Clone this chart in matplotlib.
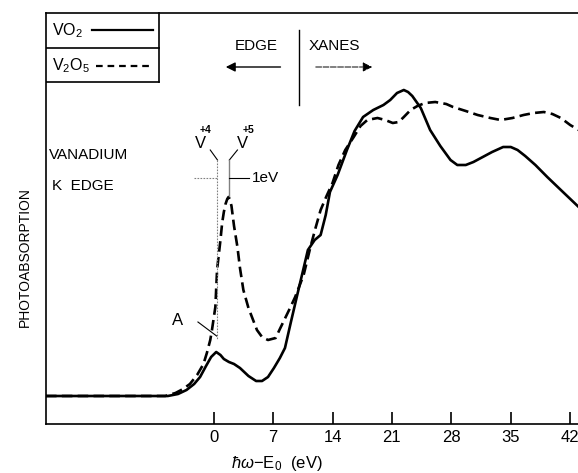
import numpy as np
import matplotlib
matplotlib.use('Agg')
import matplotlib.pyplot as plt

plt.rcParams['font.family'] = ['Liberation Sans', 'DejaVu Sans']
plt.rcParams['mathtext.fontset'] = 'custom'
plt.rcParams['mathtext.rm'] = 'Liberation Sans'
plt.rcParams['mathtext.it'] = 'Liberation Sans:italic'

# energy relative to edge (eV) and photoabsorption (arbitrary units)
vo2_e = [-19.75, -7.5, -5.4, -4.2, -3.2, -2.3, -1.6, -0.9, -0.3, 0.3, 0.8, 1.2,
         1.8, 2.4, 3.1, 4.1, 5.0, 5.7, 6.4, 7.1, 7.8, 8.4, 9.1, 9.9, 10.6, 11.1,
         11.9, 12.6, 13.2, 13.7, 14.6, 15.7, 16.6, 17.6, 18.8, 20.0, 20.8, 21.6,
         22.4, 22.9, 23.4, 24.4, 25.5, 26.7, 27.9, 28.7, 29.7, 30.6, 31.7, 32.8,
         34.1, 35.0, 35.8, 36.7, 37.9, 39.3, 40.9, 43.0]
vo2_a = [28, 28, 28, 30, 34, 40, 47, 58, 67, 72, 69, 65,
         62, 60, 56, 48, 43, 43, 47, 56, 66, 76, 102, 131, 156, 174,
         184, 189, 209, 232, 249, 274, 293, 307, 314, 319, 324, 331,
         334, 332, 328, 316, 294, 278, 264, 259, 259, 262, 267, 272,
         277, 277, 274, 268, 259, 247, 234, 217]

v2o5_e = [-19.75, -7.5, -5.7, -4.5, -3.6, -2.8, -1.95, -1.2, -0.8, -0.4, -0.2,
          0.2, 0.4, 0.8, 1.0, 1.2, 1.4, 1.6, 1.75, 1.9, 2.1, 2.4, 2.8, 3.1, 3.5,
          4.1, 5.1, 5.7, 6.4, 7.3, 7.8, 9.0, 9.6, 10.6, 11.4, 12.0, 12.6, 13.3,
          14.0, 14.7, 15.5, 16.5, 17.3, 18.1, 19.3, 20.2, 21.1, 21.8, 22.4, 23.2,
          24.0, 24.9, 26.1, 27.4, 28.2, 29.7, 31.1, 32.6, 33.8, 35.2, 36.5, 37.7,
          38.9, 39.9, 40.9, 42.0, 43.0]
v2o5_a = [28, 28, 28, 31, 35, 40, 49, 60, 71, 84, 94,
          117, 154, 184, 201, 212, 220, 225, 227, 225, 218, 198, 177, 156, 134,
          116, 94, 87, 84, 86, 95, 116, 127, 149, 177, 196, 214, 228,
          241, 259, 274, 287, 298, 304, 306, 304, 301, 302, 307, 314,
          318, 321, 322, 320, 317, 313, 309, 306, 304, 306, 309, 311,
          312, 310, 306, 299, 294]

xticks = [0, 7, 14, 21, 28, 35, 42]

fig = plt.figure(figsize=(5.78, 4.73), dpi=100)
ax = fig.add_axes([46/578, 1 - 424/473, 1 - 46/578 + 0.01, (424 - 13)/473])

ax.plot(vo2_e, vo2_a, color='black', lw=1.9, solid_joinstyle='round')
ax.plot(v2o5_e, v2o5_a, color='black', lw=1.9, dashes=(4, 2))

ax.set_xlim(-19.75, 43.6)
ax.set_ylim(0, 411)
ax.set_xticks(xticks)
ax.set_xticklabels([str(t) for t in xticks], fontsize=12)
ax.set_yticks([])
ax.tick_params(axis='x', direction='in', length=9, width=1.2, pad=4)
for s in ['left', 'bottom', 'top']:
    ax.spines[s].set_linewidth(1.2)
ax.spines['right'].set_visible(False)

# legend box
tr = ax.transAxes
bx = 112/532
ax.plot([bx, bx], [1, 0.832], color='black', lw=1.2, transform=tr, clip_on=False)
ax.plot([0, bx], [0.832, 0.832], color='black', lw=1.2, transform=tr)
ax.plot([0, bx], [0.915, 0.915], color='black', lw=1.2, transform=tr)
ax.text(0.011, 0.958, r'$\mathregular{VO_2}$', transform=tr, fontsize=11.5, va='center')
ax.plot([46/532, 106/532], [0.958, 0.958], color='black', lw=1.6, transform=tr)
ax.text(0.011, 0.871, r'$\mathregular{V_2O_5}$', transform=tr, fontsize=11.5, va='center')
ax.plot([49/532, 104/532], [0.871, 0.871], color='black', lw=1.6, dashes=(3, 2.2), transform=tr)

# EDGE / XANES
ax.text(5.0, 378, 'EDGE', fontsize=11, ha='center', va='center')
ax.text(14.2, 378, 'XANES', fontsize=11, ha='center', va='center')
ax.plot([10.1, 10.1], [394, 319], color='black', lw=1.0)
ax.annotate('', xy=(1.1, 357), xytext=(8.2, 357),
            arrowprops=dict(arrowstyle='-|>', color='black', lw=1.0, mutation_scale=14))
ax.annotate('', xy=(19.0, 357), xytext=(11.7, 357),
            arrowprops=dict(arrowstyle='-|>', color='black', lw=0.7, ls=(0, (6, 1.5)),
                            mutation_scale=14))

ax.text(-19.4, 269, 'VANADIUM', fontsize=11, va='center')
ax.text(-19.1, 238, 'K  EDGE', fontsize=11, va='center')

# valence markers
ax.text(-1.5, 281, 'V', fontsize=12, ha='center', va='center')
ax.text(-1.0, 294, '+4', fontsize=7.5, ha='center', va='center', fontweight='bold')
ax.text(3.4, 281, 'V', fontsize=12, ha='center', va='center')
ax.text(4.1, 294, '+5', fontsize=7.5, ha='center', va='center', fontweight='bold')
ax.plot([-0.4, 0.45], [274, 264], color='black', lw=0.8)
ax.plot([0.45, 0.45], [264, 84], color='gray', lw=0.8, ls=(0, (1.5, 1.2)))
ax.plot([2.8, 1.85], [274, 264], color='black', lw=0.8)
ax.plot([1.85, 1.85], [264, 228], color='gray', lw=1.0)
ax.plot([-2.3, 0.45], [246, 246], color='gray', lw=0.8, ls=(0, (1.5, 1.2)))
ax.plot([1.85, 4.2], [246, 246], color='black', lw=0.8)
ax.text(4.5, 246, '1eV', fontsize=11, va='center')

ax.plot([-1.85, 0.35], [102, 88], color='black', lw=0.8)
ax.text(-4.3, 104, 'A', fontsize=12, ha='center', va='center')

fig.text(25/578, 1 - 257/473, 'PHOTOABSORPTION', rotation=90, fontsize=10,
         ha='center', va='center')
fig.text(277/578, 1 - 463/473, r'$\hbar\omega$' + '\u2212E$_0$  (eV)', fontsize=12,
         ha='center', va='center')

fig.savefig('out.png', dpi=100)
